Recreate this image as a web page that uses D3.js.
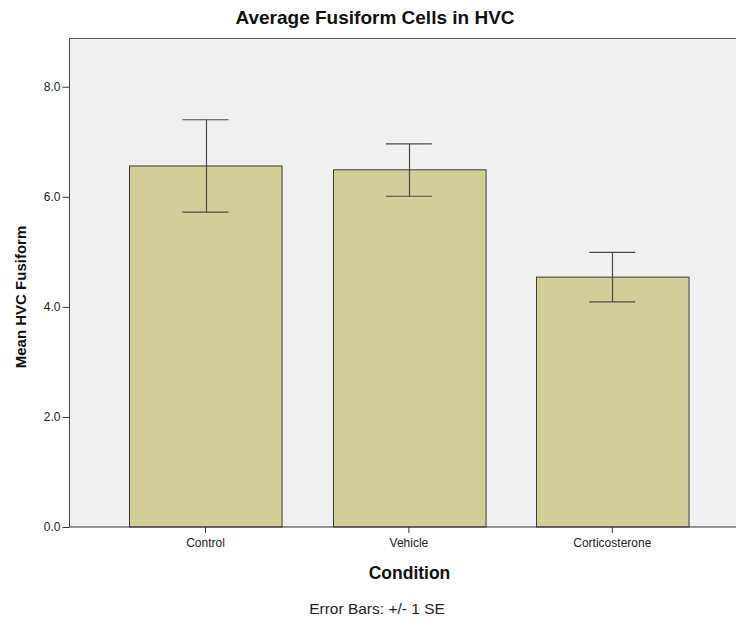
<!DOCTYPE html>
<meta charset="utf-8">
<head>
<style>
    body {margin: 0; font-family: "Liberation Sans", Arial, sans-serif; background: #fff;}
</style>
<script src="https://d3js.org/d3.v7.min.js"></script>
</head>
<body>
    <div id="chart"></div>
<script>

var conditions = ["Control", "Vehicle", "Corticosterone"];
var means = [6.56, 6.49, 4.54];
var errLow = [5.72, 6.01, 4.09];
var errHigh = [7.40, 6.96, 4.99];
var yTicks = [0, 2, 4, 6, 8];

var width = 736;
var height = 618;

var plotLeft = 69.5, plotTop = 38.5, plotBottom = 527, plotRight = 737;

var barFill = "#d3ce98";
var barStroke = "#3a3a3a";
var plotBg = "#f0f0f0";
var errColor = "#4a4a4a";

var svg = d3.select("#chart")
    .append("svg")
    .attr("width", width)
    .attr("height", height);

var y = d3.scaleLinear()
    .domain([0, 8.876])
    .range([plotBottom, plotTop]);

var x = d3.scaleBand()
    .domain(conditions)
    .range([103.8, 714])
    .paddingInner(0.25)
    .paddingOuter(0.125);

// plot background
svg.append("rect")
    .attr("x", plotLeft)
    .attr("y", plotTop)
    .attr("width", plotRight - plotLeft)
    .attr("height", plotBottom - plotTop)
    .style("fill", plotBg);

// top border
svg.append("line")
    .attr("x1", plotLeft).attr("x2", plotRight)
    .attr("y1", plotTop).attr("y2", plotTop)
    .style("stroke", "#555").style("stroke-width", 1);

// bars
svg.append("g")
    .selectAll("rect")
    .data(conditions)
    .enter().append("rect")
    .attr("x", function(d) { return Math.round(x(d)) + 0.5; })
    .attr("y", function(d, i) { return y(means[i]); })
    .attr("width", x.bandwidth())
    .attr("height", function(d, i) { return y(0) - y(means[i]); })
    .style("fill", barFill)
    .style("stroke", barStroke)
    .style("stroke-width", 1);

// error bars
var capHalf = 23;
var err = svg.append("g")
    .selectAll("g")
    .data(conditions)
    .enter().append("g")
    .style("stroke", errColor)
    .style("stroke-width", 1.2);

err.append("line")
    .attr("x1", function(d) { return Math.round(x(d) + x.bandwidth() / 2) + 0.5; })
    .attr("x2", function(d) { return Math.round(x(d) + x.bandwidth() / 2) + 0.5; })
    .attr("y1", function(d, i) { return y(errLow[i]); })
    .attr("y2", function(d, i) { return y(errHigh[i]); });

err.append("line")
    .attr("x1", function(d) { return x(d) + x.bandwidth() / 2 - capHalf; })
    .attr("x2", function(d) { return x(d) + x.bandwidth() / 2 + capHalf; })
    .attr("y1", function(d, i) { return y(errHigh[i]); })
    .attr("y2", function(d, i) { return y(errHigh[i]); });

err.append("line")
    .attr("x1", function(d) { return x(d) + x.bandwidth() / 2 - capHalf; })
    .attr("x2", function(d) { return x(d) + x.bandwidth() / 2 + capHalf; })
    .attr("y1", function(d, i) { return y(errLow[i]); })
    .attr("y2", function(d, i) { return y(errLow[i]); });

// y axis
var yAxis = svg.append("g")
    .attr("transform", "translate(" + plotLeft + ",0)")
    .call(d3.axisLeft(y)
        .tickValues(yTicks)
        .tickSize(7)
        .tickPadding(2)
        .tickFormat(d3.format(".1f")));

yAxis.select(".domain").remove();
yAxis.append("line")
    .attr("x1", 0).attr("x2", 0)
    .attr("y1", plotTop).attr("y2", plotBottom)
    .style("stroke", "#444");
yAxis.selectAll(".tick line").style("stroke", "#333");
yAxis.selectAll("text")
    .style("font-family", "Liberation Sans, Arial, sans-serif")
    .style("font-size", "12px")
    .style("fill", "#222");

// x axis
var xAxis = svg.append("g")
    .attr("transform", "translate(0," + plotBottom + ")")
    .call(d3.axisBottom(x).tickSize(6).tickPadding(5));

xAxis.select(".domain").remove();
xAxis.append("line")
    .attr("x1", plotLeft).attr("x2", plotRight)
    .attr("y1", 0).attr("y2", 0)
    .style("stroke", "#333");
xAxis.selectAll(".tick line").style("stroke", "#333");
xAxis.selectAll("text")
    .style("font-family", "Liberation Sans, Arial, sans-serif")
    .style("font-size", "12px")
    .style("fill", "#222");

// title
svg.append("text")
    .attr("x", 375)
    .attr("y", 24)
    .style("text-anchor", "middle")
    .style("font-size", "19px")
    .style("font-weight", "bold")
    .style("fill", "#111")
    .text("Average Fusiform Cells in HVC");

// axis titles
svg.append("text")
    .attr("x", 409.5)
    .attr("y", 579)
    .style("text-anchor", "middle")
    .style("font-size", "17.5px")
    .style("font-weight", "bold")
    .style("fill", "#111")
    .text("Condition");

svg.append("text")
    .attr("transform", "translate(26,297) rotate(-90)")
    .style("text-anchor", "middle")
    .style("font-size", "15px")
    .style("font-weight", "bold")
    .style("fill", "#111")
    .text("Mean HVC Fusiform");

svg.append("text")
    .attr("x", 377)
    .attr("y", 614)
    .style("text-anchor", "middle")
    .style("font-size", "15.5px")
    .style("fill", "#222")
    .text("Error Bars: +/- 1 SE");

</script>
</body>
